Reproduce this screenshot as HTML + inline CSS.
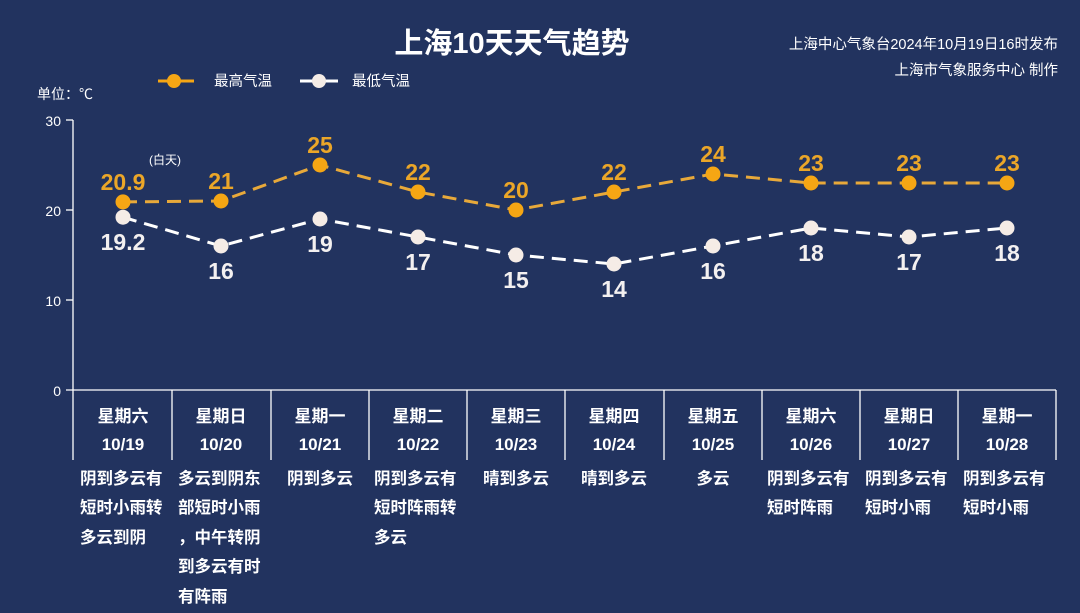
<!DOCTYPE html>
<html><head><meta charset="utf-8"><style>
html,body{margin:0;padding:0;background:#22335f;}
svg{display:block;font-family:"Liberation Sans","Noto Sans CJK SC",sans-serif;}
</style></head><body>
<svg width="1080" height="613" viewBox="0 0 1080 613">
<rect width="1080" height="613" fill="#22335f"/>
<text x="512" y="53" text-anchor="middle" font-size="29" font-weight="bold" fill="#fff">上海10天天气趋势</text>
<text x="1058" y="49" text-anchor="end" font-size="14.5" fill="#fff">上海中心气象台2024年10月19日16时发布</text>
<text x="1058" y="75" text-anchor="end" font-size="14.5" fill="#fff">上海市气象服务中心 制作</text>
<line x1="158" y1="81" x2="194" y2="81" stroke="#f5a614" stroke-width="3"/>
<circle cx="174" cy="81" r="7" fill="#f5a614"/>
<text x="214" y="86" font-size="14.5" fill="#fff">最高气温</text>
<line x1="300" y1="81" x2="338" y2="81" stroke="#fff" stroke-width="3"/>
<circle cx="319" cy="81" r="7" fill="#f5ece6"/>
<text x="352" y="86" font-size="14.5" fill="#fff">最低气温</text>
<text x="37" y="99" font-size="14" fill="#fff">单位：℃</text>
<g fill="#fff" font-size="14" text-anchor="end">
<text x="61" y="126">30</text><text x="61" y="216">20</text><text x="61" y="306">10</text><text x="61" y="396">0</text></g>
<g stroke="#fff" stroke-width="1.3">
<line x1="73" y1="120" x2="73" y2="390"/>
<line x1="66" y1="120" x2="73" y2="120"/><line x1="66" y1="210" x2="73" y2="210"/><line x1="66" y1="300" x2="73" y2="300"/>
<line x1="66" y1="390" x2="1056" y2="390"/>
<line x1="73" y1="390" x2="73" y2="460"/><line x1="172" y1="390" x2="172" y2="460"/><line x1="271" y1="390" x2="271" y2="460"/><line x1="369" y1="390" x2="369" y2="460"/><line x1="467" y1="390" x2="467" y2="460"/><line x1="565" y1="390" x2="565" y2="460"/><line x1="664" y1="390" x2="664" y2="460"/><line x1="762" y1="390" x2="762" y2="460"/><line x1="860" y1="390" x2="860" y2="460"/><line x1="958" y1="390" x2="958" y2="460"/><line x1="1056" y1="390" x2="1056" y2="460"/>
</g>
<polyline fill="none" stroke="#e8a93a" stroke-width="3" stroke-dasharray="14,8" points="123,201.9 221,201 320,165 418,192 516,210 614,192 713,174 811,183 909,183 1007,183"/>
<polyline fill="none" stroke="#fff" stroke-width="3" stroke-dasharray="14,8" points="123,217.2 221,246 320,219 418,237 516,255 614,264 713,246 811,228 909,237 1007,228"/>
<g fill="#f5a614">
<circle cx="123" cy="201.9" r="7.5"/><circle cx="221" cy="201" r="7.5"/><circle cx="320" cy="165" r="7.5"/><circle cx="418" cy="192" r="7.5"/><circle cx="516" cy="210" r="7.5"/><circle cx="614" cy="192" r="7.5"/><circle cx="713" cy="174" r="7.5"/><circle cx="811" cy="183" r="7.5"/><circle cx="909" cy="183" r="7.5"/><circle cx="1007" cy="183" r="7.5"/></g>
<g fill="#f5ece6">
<circle cx="123" cy="217.2" r="7.5"/><circle cx="221" cy="246" r="7.5"/><circle cx="320" cy="219" r="7.5"/><circle cx="418" cy="237" r="7.5"/><circle cx="516" cy="255" r="7.5"/><circle cx="614" cy="264" r="7.5"/><circle cx="713" cy="246" r="7.5"/><circle cx="811" cy="228" r="7.5"/><circle cx="909" cy="237" r="7.5"/><circle cx="1007" cy="228" r="7.5"/></g>
<g fill="#eba628" font-size="23" font-weight="bold" text-anchor="middle">
<text x="123" y="190">20.9</text><text x="221" y="189">21</text><text x="320" y="153">25</text><text x="418" y="180">22</text><text x="516" y="198">20</text><text x="614" y="180">22</text><text x="713" y="162">24</text><text x="811" y="171">23</text><text x="909" y="171">23</text><text x="1007" y="171">23</text></g>
<text x="165" y="164" font-size="12" fill="#fff" text-anchor="middle">(白天)</text>
<g fill="#f3f0f0" font-size="23" font-weight="bold" text-anchor="middle">
<text x="123" y="250">19.2</text><text x="221" y="279">16</text><text x="320" y="252">19</text><text x="418" y="270">17</text><text x="516" y="288">15</text><text x="614" y="297">14</text><text x="713" y="279">16</text><text x="811" y="261">18</text><text x="909" y="270">17</text><text x="1007" y="261">18</text></g>
<g fill="#fff" font-size="17" font-weight="bold" text-anchor="middle">
<text x="123" y="422">星期六</text><text x="221" y="422">星期日</text><text x="320" y="422">星期一</text><text x="418" y="422">星期二</text><text x="516" y="422">星期三</text><text x="614" y="422">星期四</text><text x="713" y="422">星期五</text><text x="811" y="422">星期六</text><text x="909" y="422">星期日</text><text x="1007" y="422">星期一</text>
<text x="123" y="450">10/19</text><text x="221" y="450">10/20</text><text x="320" y="450">10/21</text><text x="418" y="450">10/22</text><text x="516" y="450">10/23</text><text x="614" y="450">10/24</text><text x="713" y="450">10/25</text><text x="811" y="450">10/26</text><text x="909" y="450">10/27</text><text x="1007" y="450">10/28</text></g>
<g fill="#fff" font-size="16.5" font-weight="bold">
<text x="80" y="484">阴到多云有</text><text x="80" y="513">短时小雨转</text><text x="80" y="543">多云到阴</text>
<text x="178" y="484">多云到阴东</text><text x="178" y="513">部短时小雨</text><text x="178" y="543">，中午转阴</text><text x="178" y="572">到多云有时</text><text x="178" y="602">有阵雨</text>
<text x="320" y="484" text-anchor="middle">阴到多云</text>
<text x="374" y="484">阴到多云有</text><text x="374" y="513">短时阵雨转</text><text x="374" y="543">多云</text>
<text x="516" y="484" text-anchor="middle">晴到多云</text>
<text x="614" y="484" text-anchor="middle">晴到多云</text>
<text x="713" y="484" text-anchor="middle">多云</text>
<text x="767" y="484">阴到多云有</text><text x="767" y="513">短时阵雨</text>
<text x="865" y="484">阴到多云有</text><text x="865" y="513">短时小雨</text>
<text x="963" y="484">阴到多云有</text><text x="963" y="513">短时小雨</text>
</g>
</svg>
</body></html>
